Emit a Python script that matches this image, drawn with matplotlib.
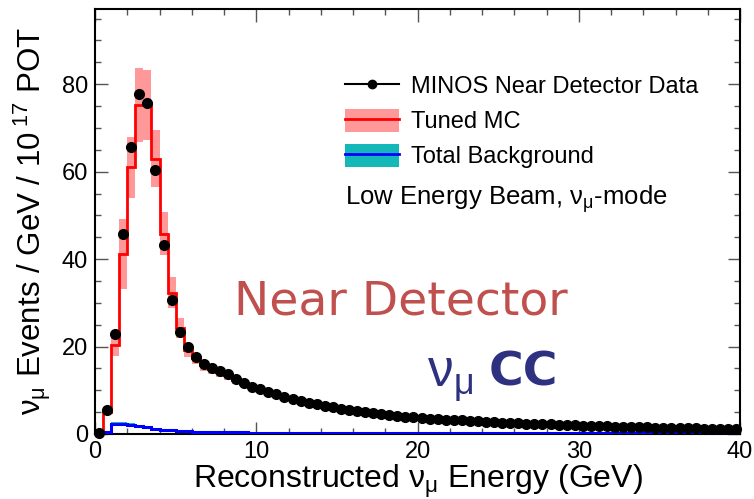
#
#  MINOS Near Detector reconstructed nu_mu energy spectrum
#  Data points, tuned MC with error band and total background
#
import numpy as np
import matplotlib
matplotlib.use('Agg')
import matplotlib.pyplot as plt
from matplotlib.lines import Line2D
from matplotlib.patches import Patch
from matplotlib.ticker import MultipleLocator

plt.rcParams['font.family'] = ['Liberation Sans', 'DejaVu Sans']
plt.rcParams['mathtext.fontset'] = 'custom'
plt.rcParams['mathtext.rm'] = 'Liberation Sans'
plt.rcParams['mathtext.it'] = 'Liberation Sans:italic'
plt.rcParams['mathtext.bf'] = 'Liberation Sans:bold'
plt.rcParams['mathtext.default'] = 'regular'

# 0.5 GeV bins from 0 to 40 GeV
bin_width = 0.5
e_min, e_max = 0.0, 40.0

data = [0.3, 5.6, 22.9, 45.7, 65.6, 77.8, 75.6, 60.3, 43.3, 30.6, 23.3,
        19.8, 17.7, 16.0, 15.2, 14.4, 13.7, 12.5, 11.7, 10.8, 10.3, 9.7, 9.2, 8.5,
        8.1, 7.6, 7.2, 6.8, 6.4, 6.1, 5.7, 5.5, 5.3, 5.0, 4.7,
        4.5, 4.3, 4.1, 3.9, 3.8, 3.6, 3.5, 3.4, 3.3, 3.2, 3.1, 3.0, 2.9, 2.8, 2.7,
        2.6, 2.5, 2.45, 2.4, 2.3, 2.25, 2.2, 2.1, 2.05, 2.0, 1.9, 1.85, 1.8, 1.75,
        1.7, 1.65, 1.6, 1.55, 1.5, 1.45, 1.4, 1.38, 1.35, 1.3, 1.27, 1.23, 1.2,
        1.17, 1.13, 1.1]

tuned_mc = [0.3, 5.1, 20.4, 41.2, 61.0, 75.2, 75.2, 63.0, 45.8, 32.3, 24.2, 19.2,
            17.3, 15.7, 14.9, 14.1, 13.4, 12.3, 11.5, 10.7, 10.1, 9.6, 9.0, 8.4,
            8.0, 7.5, 7.1, 6.7, 6.3, 6.0, 5.6, 5.4, 5.2, 4.9, 4.6,
            4.4, 4.2, 4.0, 3.85, 3.7, 3.55, 3.45, 3.35, 3.25, 3.15, 3.05, 2.95, 2.85,
            2.75, 2.65, 2.55, 2.48, 2.4, 2.35, 2.28, 2.2, 2.15, 2.08, 2.0, 1.95, 1.88,
            1.82, 1.77, 1.72, 1.66, 1.61, 1.56, 1.51, 1.46, 1.42, 1.38, 1.34, 1.3,
            1.27, 1.23, 1.2, 1.17, 1.14, 1.11, 1.08]

mc_err = [0.1, 0.6, 2.5, 8.0, 7.0, 8.4, 8.0, 6.6, 4.9, 3.5, 2.3, 1.5,
          1.3, 1.2, 1.1, 1.0, 0.95, 0.9, 0.85, 0.8, 0.75, 0.7, 0.65, 0.6,
          0.55, 0.5, 0.48, 0.45, 0.42, 0.4, 0.38, 0.36, 0.34, 0.32, 0.3,
          0.3, 0.28, 0.27, 0.26, 0.25, 0.24, 0.23, 0.22, 0.21, 0.2, 0.2, 0.19, 0.18,
          0.18, 0.17, 0.16, 0.16, 0.15, 0.15, 0.14, 0.14, 0.13, 0.13, 0.12, 0.12,
          0.12, 0.11, 0.11, 0.11, 0.1, 0.1, 0.1, 0.1, 0.09, 0.09, 0.09, 0.09, 0.08,
          0.08, 0.08, 0.08, 0.08, 0.07, 0.07, 0.07]

background = [0.0, 0.5, 2.4, 2.4, 2.1, 1.8, 1.5, 1.2, 1.0, 0.85, 0.7, 0.6,
              0.5, 0.45, 0.42, 0.4, 0.38, 0.36, 0.35, 0.34, 0.33, 0.32, 0.31, 0.3,
              0.25, 0.25, 0.24, 0.24, 0.23, 0.23, 0.22, 0.22, 0.22, 0.21, 0.21,
              0.21, 0.2, 0.2, 0.2, 0.2, 0.2, 0.2, 0.2, 0.2, 0.2, 0.2, 0.2,
              0.2, 0.2, 0.2, 0.2, 0.2, 0.2, 0.2, 0.2, 0.2, 0.2, 0.2,
              0.2, 0.2, 0.2, 0.2, 0.2, 0.2, 0.2, 0.2, 0.2, 0.2, 0.2,
              0.2, 0.2, 0.2, 0.2, 0.2, 0.2, 0.2, 0.2, 0.2, 0.2, 0.2]

bkg_err = [0.0, 0.1, 0.45, 0.45, 0.35, 0.3, 0.25, 0.2, 0.15, 0.12, 0.1, 0.08,
           0.07, 0.06, 0.06, 0.05, 0.05, 0.05, 0.04, 0.04, 0.04, 0.04, 0.04, 0.04,
           0.03, 0.03, 0.03, 0.03, 0.03, 0.03, 0.03, 0.03, 0.03, 0.03, 0.03,
           0.02, 0.02, 0.02, 0.02, 0.02, 0.02, 0.02, 0.02, 0.02, 0.02, 0.02, 0.02,
           0.02, 0.02, 0.02, 0.02, 0.02, 0.02, 0.02, 0.02, 0.02, 0.02, 0.02, 0.02,
           0.01, 0.01, 0.01, 0.01, 0.01, 0.01, 0.01, 0.01, 0.01, 0.01, 0.01, 0.01,
           0.01, 0.01, 0.01, 0.01, 0.01, 0.01, 0.01, 0.01, 0.01]

edges = np.arange(e_min, e_max + bin_width / 2, bin_width)
centers = 0.5 * (edges[:-1] + edges[1:])
data = np.array(data)
tuned_mc = np.array(tuned_mc)
mc_err = np.array(mc_err)
background = np.array(background)
bkg_err = np.array(bkg_err)

mc_band_col = '#ff9999'
bkg_band_col = '#14b8b8'

fig = plt.figure(figsize=(7.54, 4.99), dpi=100)
ax = fig.add_axes([95/754, 65/499, 645/754, 425/499])

# Error bands, then lines, then data on top
ax.stairs(tuned_mc + mc_err, edges, baseline=tuned_mc - mc_err, fill=True,
          color=mc_band_col, lw=0)
ax.stairs(background + bkg_err, edges, baseline=background - bkg_err, fill=True,
          color=bkg_band_col, lw=0)
ax.stairs(tuned_mc, edges, color='red', lw=2)
ax.stairs(background, edges, color='blue', lw=2.2, zorder=3)
ax.plot(centers, data, 'o', color='black', ms=7, zorder=5, clip_on=False)

ax.set_xlim(e_min, e_max)
ax.set_ylim(0, 97.2)

# ROOT style ticks: inside, on all four sides
ax.xaxis.set_major_locator(MultipleLocator(10))
ax.xaxis.set_minor_locator(MultipleLocator(2))
ax.yaxis.set_major_locator(MultipleLocator(20))
ax.yaxis.set_minor_locator(MultipleLocator(5))
ax.tick_params(which='both', direction='in', top=True, right=True,
               labelsize=17, color='#555555', width=1)
ax.tick_params(which='major', length=9, pad=5)
ax.tick_params(which='minor', length=4.5)
for s in ax.spines.values():
    s.set_linewidth(1.5)

ax.set_xlabel(r'Reconstructed $\nu_{\mu}$ Energy (GeV)', fontsize=23, labelpad=0)
ax.set_ylabel(r'$\nu_{\mu}$ Events / GeV / 10$^{\;17}$ POT', fontsize=22.5, labelpad=6)

# Legend
handles = [Line2D([0], [0], color='black', marker='o', ms=6, lw=1.5),
           (Patch(color=mc_band_col, lw=0), Line2D([0], [0], color='red', lw=2)),
           (Patch(color=bkg_band_col, lw=0), Line2D([0], [0], color='blue', lw=2))]
labels = ['MINOS Near Detector Data', 'Tuned MC', 'Total Background']
ax.legend(handles, labels, loc='upper left', frameon=False, fontsize=17,
          bbox_to_anchor=(345/754, 1 - 74/499), bbox_transform=fig.transFigure,
          borderpad=0, borderaxespad=0, handlelength=2.3, handleheight=1.1,
          handletextpad=0.5, labelspacing=0.45)
fig.text(345/754, 1 - 199/499, r'Low Energy Beam, $\nu_{\mu}$-mode',
         fontsize=18.5, va='center', ha='left')

# Big labels
fig.text(401/754, 1 - 302/499, 'Near Detector', fontsize=34, color='#c0504d',
         family='DejaVu Sans', ha='center', va='center')
fig.text(427/754, 1 - 379/499, r'$\nu_{\mu}$', fontsize=37, color='#2e3180',
         ha='left', va='center')
fig.text(489/754, 1 - 373/499, 'CC', fontsize=34, color='#2e3180',
         family='DejaVu Sans', fontweight='bold', ha='left', va='center')

plt.savefig('out.png', dpi=100)
